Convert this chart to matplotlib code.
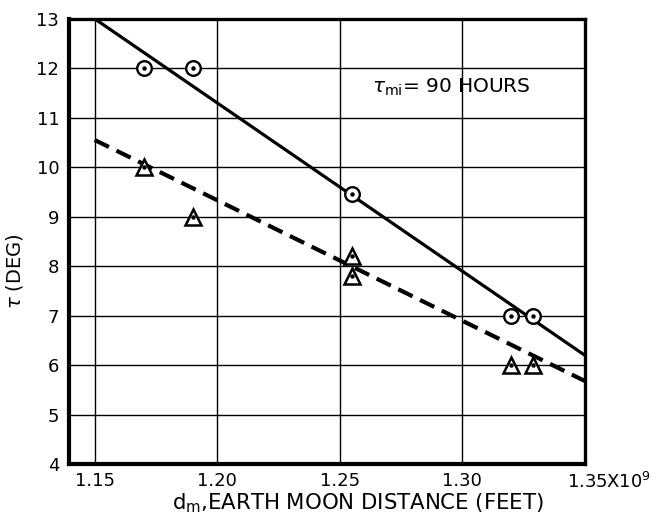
import matplotlib
matplotlib.use("Agg")
import matplotlib.pyplot as plt
import numpy as np

# Measured points (distance in units of 1e9 ft, angle in degrees)
circle_x = [1.170, 1.190, 1.255, 1.320, 1.329]
circle_y = [12.0, 12.0, 9.45, 7.0, 7.0]
tri_x = [1.170, 1.190, 1.255, 1.255, 1.320, 1.329]
tri_y = [10.0, 9.0, 8.2, 7.8, 6.0, 6.0]

# Fitted straight lines (end points)
solid_x = [1.15, 1.35]
solid_y = [13.0, 6.2]
dashed_x = [1.15, 1.35]
dashed_y = [10.55, 5.68]

xticks = [1.15, 1.20, 1.25, 1.30, 1.35]
xtick_labels = ["1.15", "1.20", "1.25", "1.30", ""]
last_xtick_label = r"1.35X10$^9$"
yticks = [4, 5, 6, 7, 8, 9, 10, 11, 12, 13]

plt.rcParams['font.family'] = ['DejaVu Sans']
plt.rcParams['mathtext.fontset'] = 'dejavusans'

fig = plt.figure(figsize=(6.57, 5.22), dpi=100)
ax = fig.add_axes([0.105, 0.111, 0.785, 0.853])

ax.set_xlim(1.1395, 1.35)
ax.set_ylim(4, 13)

for xv in xticks:
    ax.axvline(xv, color="black", lw=1.0, zorder=1)
for yv in yticks:
    ax.axhline(yv, color="black", lw=1.0, zorder=1)

ax.plot(solid_x, solid_y, color="black", lw=2.3, solid_capstyle="butt", zorder=2)
ax.plot(dashed_x, dashed_y, color="black", lw=3.0, linestyle=(0, (3.8, 2.0)), zorder=2)

ax.plot(circle_x, circle_y, linestyle="none", marker="o", ms=10.5, mfc="white",
        mec="black", mew=1.7, zorder=3)
ax.plot(circle_x, circle_y, linestyle="none", marker="o", ms=2.2, color="black", zorder=4)
ax.plot(tri_x, tri_y, linestyle="none", marker="^", ms=11.5, mfc="white",
        mec="black", mew=1.8, zorder=3)
ax.plot(tri_x, tri_y, linestyle="none", marker="o", ms=2.2, color="black", zorder=4)

ax.set_xticks(xticks)
ax.set_xticklabels(xtick_labels)
ax.set_yticks(yticks)
ax.tick_params(length=0, labelsize=13)
ax.tick_params(axis="x", pad=6)
ax.tick_params(axis="y", pad=7)

# last x tick carries the scale factor, set slightly right of the tick
ax.annotate(last_xtick_label, xy=(xticks[-1], 0), xycoords=("data", "axes fraction"),
            xytext=(-13, -17.5), textcoords="offset points",
            ha="left", va="baseline", fontsize=13, annotation_clip=False)

for side, lw in (("left", 3.0), ("bottom", 3.0), ("top", 2.4), ("right", 2.4)):
    ax.spines[side].set_linewidth(lw)

ax.set_xlabel(r"d$_{\rm m}$,EARTH MOON DISTANCE (FEET)", fontsize=15.3)
ax.xaxis.set_label_coords(0.56, -0.061)
ax.set_ylabel(r"$\tau$ (DEG)", fontsize=14)
ax.yaxis.set_label_coords(-0.085, 0.434)

ax.text(1.263, 11.62, r"$\tau_{\rm mi}$= 90 HOURS", fontsize=14.5, ha="left", va="center")

fig.savefig("out.png", dpi=100)
